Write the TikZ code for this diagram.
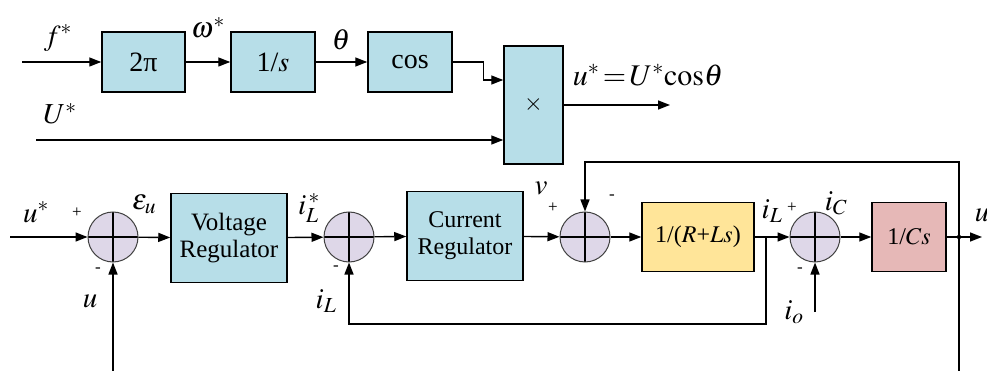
\documentclass[tikz,border=0pt]{standalone}
\usepackage{mathptmx}
\usepackage{fontspec}
\setmainfont{Liberation Serif}
\usetikzlibrary{arrows.meta}
\definecolor{boxblue}{RGB}{183,222,232}
\definecolor{sumgray}{RGB}{222,215,232}
\definecolor{boxyellow}{RGB}{255,229,153}
\definecolor{boxpink}{RGB}{230,184,183}
\begin{document}
\begin{tikzpicture}[
    x=1pt, y=-1pt,
    block/.style={rectangle, draw, line width=1.5pt, fill=boxblue, align=center, inner sep=0pt, font=\fontsize{24}{26}\selectfont},
    sum/.style={circle, draw=black!75, line width=1pt, fill=sumgray, minimum size=50pt, inner sep=0pt,
        path picture={\draw[line width=1.4pt, black] (path picture bounding box.north) -- (path picture bounding box.south)
            (path picture bounding box.west) -- (path picture bounding box.east);}},
    arrow/.style={-{Triangle[length=12pt, width=9pt]}, line width=1.4pt},
    wire/.style={line width=1.4pt},
    lbl/.style={font=\fontsize{29}{31}\selectfont, inner sep=0pt},
    sgn/.style={font=\fontsize{17}{18}\selectfont, inner sep=0pt}
]
\useasboundingbox (0,0) rectangle (987,371);

% Top row: reference generator
\node[block, minimum width=83pt, minimum height=60pt, font=\fontsize{28}{30}\selectfont] (b2pi) at (143.5,62) {2π};
\node[block, minimum width=84pt, minimum height=60pt, font=\fontsize{28}{30}\selectfont] (bint) at (273,62) {1/$s$};
\node[block, minimum width=84pt, minimum height=60pt, font=\fontsize{28}{30}\selectfont] (bcos) at (410,62) {cos};
\node[block, minimum width=59pt, minimum height=118pt] (bmul) at (533.5,105) {$\times$};

\coordinate (fin) at (22,62);
\coordinate (uin) at (36,140);
\coordinate (uout) at (670,105);

\draw[arrow] (fin) -- (b2pi);
\draw[arrow] (b2pi) -- (bint);
\draw[arrow] (bint) -- (bcos);
\draw[arrow] (bcos.east) -- ++(31,0) |- ([yshift=25pt]bmul.west);
\draw[arrow] (uin) -- (uin -| bmul.west);
\draw[arrow] (bmul.east) -- (uout);

\node[lbl] (lf) at (58,38) {$f^{*}$};
\node[lbl] (lw) at (208,28) {$\omega^{*}$};
\node[lbl] (lth) at (341,40) {$\theta$};
\node[lbl] (lU) at (60,114) {$U^{*}$};
\node[lbl, font=\fontsize{30}{32}\selectfont] (lout) at (648,75) {$u^{*}\!=\!U^{*}\mathrm{cos}\theta$};

% Bottom row: voltage and current loops
\node[sum] (s1) at (113,237) {};
\node[block, minimum width=116pt, minimum height=89pt, font=\fontsize{25}{27}\selectfont] (bvr) at (229,238) {Voltage\\Regulator};
\node[sum] (s2) at (349,237) {};
\node[block, minimum width=116pt, minimum height=89pt, font=\fontsize{24}{27}\selectfont] (bcr) at (465,236) {Current\\Regulator};
\node[sum] (s3) at (585,237) {};
\node[block, minimum width=112pt, minimum height=69pt, fill=boxyellow] (brl) at (698,237) {1/($R$+$Ls$)};
\node[sum] (s4) at (815,237) {};
\node[block, minimum width=74pt, minimum height=69pt, fill=boxpink] (bcs) at (909,237) {1/$Cs$};

\coordinate (vin) at (10,237);
\coordinate (ubot1) at (113,371);
\coordinate (ilbr) at (766,237);
\coordinate (ilbot) at (766,324);
\coordinate (ioin) at (815,312);
\coordinate (ubr) at (959,237);
\coordinate (fbup) at (959,162);
\coordinate (ubot2) at (959,371);
\coordinate (uend) at (982,237);

\draw[arrow] (vin) -- (s1);
\draw[arrow] (s1) -- (bvr);
\draw[arrow] (bvr) -- (s2);
\draw[arrow] (s2) -- (bcr);
\draw[arrow] (bcr) -- (s3);
\draw[arrow] (s3) -- (brl);
\draw[arrow] (brl) -- (s4);
\draw[arrow] (s4) -- (bcs);
\draw[arrow] (bcs) -- (uend);
\fill (ubr) circle (2.2pt);

% Feedback paths
\draw[arrow] (ubot1) -- (s1.south);
\draw[arrow] (ilbr) -- (ilbot) -| (s2.south);
\draw[arrow] (ioin) -- (s4.south);
\draw[arrow] (ubr) -- (fbup) -| (s3.north);
\draw[wire] (ubr) -- (ubot2);

% Labels
\node[lbl] (lu1) at (36,212) {$u^{*}$};
\node[lbl] (leps) at (144,204) {$\varepsilon_{u}$};
\node[lbl] (lu2) at (90,301) {$u$};
\node[lbl] (lil1) at (309,208) {$i_{L}^{\,*}$};
\node[lbl] (lil2) at (326,301) {$i_{L}$};
\node[lbl] (lv) at (541,188) {$v$};
\node[lbl] (lil3) at (772,211) {$i_{L}$};
\node[lbl] (lic) at (836,203) {$i_{C}$};
\node[lbl] (lio) at (794,312) {$i_{o}$};
\node[lbl] (lu3) at (982,215) {$u$};

\node[sgn] (p1) at (77,213) {+};
\node[sgn] (m1) at (98,270) {-};
\node[sgn] (m2) at (336,268) {-};
\node[sgn] (p3) at (553,208) {+};
\node[sgn] (m3) at (612,197) {-};
\node[sgn] (p4) at (792,208) {+};
\node[sgn] (m4) at (800,270) {-};
\end{tikzpicture}
\end{document}
